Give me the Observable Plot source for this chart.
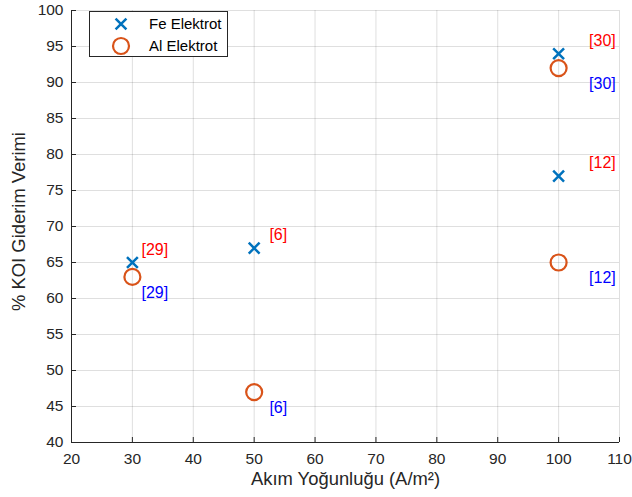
<!DOCTYPE html>
<html>
<head>
<meta charset="utf-8">
<script src="https://cdn.jsdelivr.net/npm/d3@7"></script>
<script src="https://cdn.jsdelivr.net/npm/@observablehq/plot@0.6"></script>
<style>
  html, body { margin: 0; padding: 0; background: #fff; }
  #wrap { position: relative; width: 632px; height: 497px; font-family: "Liberation Sans", Arial, sans-serif; }
  #legend { position: absolute; left: 89px; top: 11px; width: 137px; height: 44px; border: 1px solid #262626; background: #fff; }
  #legend svg { display: block; }
</style>
</head>
<body>
<div id="wrap"><div id="legend"></div></div>
<script>
// ---- data ----
const feX = [30, 50, 100, 100];
const feY = [65, 67, 94, 77];
const alX = [30, 50, 100, 100];
const alY = [63, 47, 92, 65];
const refs = ["[29]", "[6]", "[30]", "[12]"];
const feLabelX = [31.5, 52.5, 105, 105];
const feLabelY = [66.8, 68.8, 95.8, 78.8];
const alLabelX = [31.5, 52.5, 105, 105];
const alLabelY = [60.8, 44.8, 89.8, 62.8];
const xTicks = [20, 30, 40, 50, 60, 70, 80, 90, 100, 110];
const yTicks = [40, 45, 50, 55, 60, 65, 70, 75, 80, 85, 90, 95, 100];
const seriesNames = ["Fe Elektrot", "Al Elektrot"];
const xLabel = "Akım Yoğunluğu (A/m²)";
const yLabel = "% KOI Giderim Verimi";

const blue = "#0072BD", orange = "#D95319", axisColor = "#262626";

const fe = feX.map((x, i) => ({x, y: feY[i], ref: refs[i], lx: feLabelX[i], ly: feLabelY[i]}));
const al = alX.map((x, i) => ({x, y: alY[i], ref: refs[i], lx: alLabelX[i], ly: alLabelY[i]}));

const W = 632, H = 497, mT = 10, mB = 55, mL = 71, mR = 13;
const frameH = H - mT - mB, frameW = W - mL - mR;

const chart = Plot.plot({
  width: W, height: H,
  marginTop: mT, marginBottom: mB, marginLeft: mL, marginRight: mR,
  style: {fontFamily: '"Liberation Sans", Arial, sans-serif', fontSize: "15.5px", color: axisColor, background: "#fff"},
  x: {domain: [20, 110], axis: null},
  y: {domain: [40, 100], axis: null},
  marks: [
    Plot.gridX(xTicks, {stroke: axisColor, strokeOpacity: 0.15}),
    Plot.gridY(yTicks, {stroke: axisColor, strokeOpacity: 0.15}),
    Plot.ruleY([40], {stroke: axisColor}),
    Plot.ruleX([20], {stroke: axisColor}),
    Plot.tickX(xTicks, {x: d => d, stroke: axisColor, insetTop: frameH - 5}),
    Plot.tickY(yTicks, {y: d => d, stroke: axisColor, insetRight: frameW - 5}),
    Plot.axisX({ticks: xTicks, tickSize: 0, tickPadding: 10, label: null, fontSize: 15.5, fill: axisColor}),
    Plot.axisY({ticks: yTicks, tickSize: 0, tickPadding: 8, label: null, fontSize: 15.5, fill: axisColor}),
    Plot.dot(fe, {x: "x", y: "y", symbol: "times", r: 5, stroke: blue, strokeWidth: 2.5}),
    Plot.dot(al, {x: "x", y: "y", symbol: "circle", r: 8, stroke: orange, strokeWidth: 2.2, fill: "none"}),
    Plot.text(fe, {x: "lx", y: "ly", text: "ref", fill: "#FF0000", textAnchor: "start", fontSize: 16}),
    Plot.text(al, {x: "lx", y: "ly", text: "ref", fill: "#0000FF", textAnchor: "start", fontSize: 16}),
    Plot.text([xLabel], {frameAnchor: "bottom", dy: 42, fontSize: 18.4, fill: axisColor}),
    Plot.text([yLabel], {frameAnchor: "left", dx: -52, dy: -5, rotate: -90, textAnchor: "middle", fontSize: 18.4, fill: axisColor})
  ]
});
document.getElementById("wrap").insertBefore(chart, document.getElementById("legend"));

// legend
const leg = d3.select("#legend").append("svg").attr("width", 137).attr("height", 44);
const rows = [{name: seriesNames[0], sym: "x"}, {name: seriesNames[1], sym: "o"}];
rows.forEach((r, i) => {
  const cy = 12 + i * 22;
  if (r.sym === "x") {
    leg.append("path").attr("d", d3.symbol(d3.symbolTimes, 5 * 5 * Math.PI)())
      .attr("transform", `translate(31,${cy})`).attr("stroke", blue).attr("stroke-width", 2.5).attr("fill", "none");
  } else {
    leg.append("circle").attr("cx", 31).attr("cy", cy).attr("r", 8).attr("stroke", orange).attr("stroke-width", 2.2).attr("fill", "none");
  }
  leg.append("text").attr("x", 59).attr("y", cy).attr("dy", "0.35em").attr("font-size", 15).attr("fill", "#000").text(r.name);
});
</script>
</body>
</html>
